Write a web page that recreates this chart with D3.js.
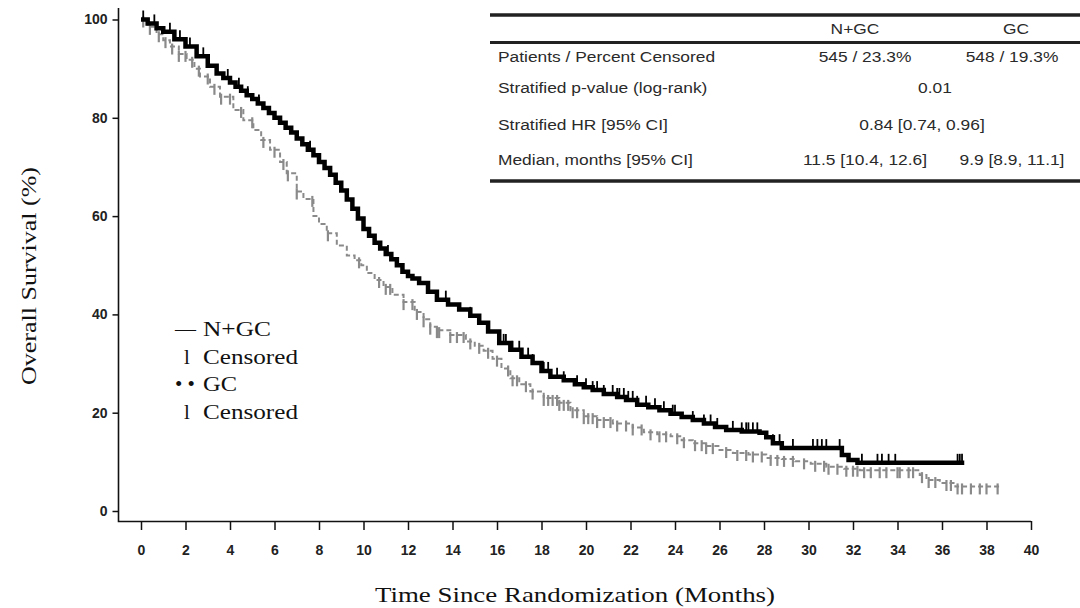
<!DOCTYPE html>
<html>
<head>
<meta charset="utf-8">
<script src="https://cdn.jsdelivr.net/npm/d3@7"></script>
<style>
  body { margin: 0; background: #fff; }
  svg { display: block; }
</style>
</head>
<body>
<div id="holder"></div>
<script>
// N+GC Kaplan-Meier knots (months, % surviving)
const ngcTime = [0,0.3,0.7,1.0,1.5,2.0,2.5,3.0,3.4,3.7,4.0,4.25,4.5,4.75,5.0,5.25,5.5,5.75,6.0,6.25,6.5,6.75,7.0,7.25,7.5,7.75,8.0,8.25,8.5,8.75,9.0,9.25,9.5,9.75,10.0,10.25,10.5,10.75,11.0,11.25,11.5,11.75,12.0,12.2,12.5,12.9,13.3,13.8,14.3,14.8,15.2,15.6,16.1,16.6,17.1,17.6,18.0,18.4,19.0,19.5,19.9,20.3,20.8,21.4,21.8,22.3,22.8,23.3,23.8,24.3,24.8,25.3,25.8,26.3,27.0,27.8,28.1,28.4,28.8,31.5,31.8,32.2];
const ngcSurv = [100,99.2,98.2,97.5,96,94.5,92.5,90.6,89,88.1,87.2,86.3,85.5,84.6,83.8,82.9,82,81,80,79,78,77,75.8,74.6,73.5,72.4,71,69.8,68.4,66.8,65.2,63.4,61.5,59.5,57.4,56,54.6,53.4,52.3,51.2,50,48.7,47.8,47.3,46.4,44.6,43,42,41,39.7,38.3,36.5,34.2,32.8,31.4,30.1,28.5,27.3,26.6,25.8,25.2,24.6,23.8,23.2,22.6,21.6,21.1,20.5,19.8,19.1,18.5,17.8,17.1,16.5,16.2,15.9,15.0,13.8,12.8,11.4,10.4,9.8];
const ngcEnd = 37.0;
const ngcCensor = [0.1,0.6,1.3,1.75,2.2,2.8,3.4,3.9,4.4,4.8,5.3,7.6,11.1,13.7,14.8,15.6,16.3,16.4,16.7,17.0,17.4,17.6,18.1,18.3,18.7,19.0,19.6,20.0,20.3,20.5,20.8,21.2,21.4,21.5,21.7,21.9,22.1,22.3,22.7,23.1,23.5,23.9,24.0,24.8,25.3,25.6,25.9,26.6,27.0,27.2,27.3,27.5,27.7,28.4,28.7,29.3,30.2,30.4,30.6,30.8,31.4,32.4,33.1,33.3,33.6,33.9,36.7,36.8,36.9];

// GC Kaplan-Meier knots
const gcTime = [0,0.3,0.7,1.0,1.3,1.7,2.05,2.4,2.65,3.1,3.55,4.15,4.6,5.05,5.4,5.8,6.25,6.55,7.0,7.3,7.75,8.0,8.35,8.8,9.25,9.6,9.9,10.15,10.5,10.9,11.3,11.8,12.3,12.7,13.0,13.3,13.9,14.6,15.0,15.4,15.8,16.2,16.6,17.0,17.5,18.1,18.8,19.3,19.9,20.5,21.2,22.1,22.6,23.2,23.8,24.3,24.8,25.4,26.0,26.6,27.3,28.1,28.8,29.4,30.1,30.8,31.6,32.3,35.0,35.3,35.9,36.6];
const gcSurv = [100,98.5,97,95.8,94.5,93,91.8,90,88.4,86.3,84.3,81.6,79.5,77.5,75.5,73.5,71,68.7,65,63.5,60,58.4,56.5,54,52,51,50,48.4,47,45.6,44,42.5,40.5,39,37.5,36.8,35.8,34.5,33.6,32.6,31,29,27,25.8,24.3,23,22,20.5,19.3,18.5,17.8,17,16,15.6,15.2,14.4,13.8,13.2,12.4,11.8,11.5,10.8,10.6,10.1,9.6,9.0,8.6,8.3,7.3,6.3,5.7,5.0];
const gcEnd = 38.6;
const gcCensor = [0.1,0.4,0.8,1.1,1.4,1.7,2.0,2.3,2.6,3.0,3.3,3.6,4.0,4.5,5.0,5.5,6.0,6.4,6.6,7.0,7.7,8.4,9.8,10.7,11.0,11.2,11.8,12.2,12.4,12.7,13.0,13.3,13.4,13.9,14.2,14.5,14.8,15.2,15.6,16.0,16.5,16.7,16.9,17.3,17.6,18.1,18.3,18.5,18.7,18.8,19.0,19.2,19.4,19.6,19.9,20.1,20.3,20.5,20.8,21.1,21.4,21.8,22.1,22.5,22.9,23.3,23.6,24.1,24.4,24.9,25.2,25.4,25.7,26.3,26.8,27.2,27.5,27.9,28.3,28.6,28.9,29.3,29.8,30.3,30.7,30.9,31.3,31.7,32.0,32.2,32.5,32.8,33.2,33.5,34.0,34.1,34.5,34.7,35.1,35.4,35.7,36.2,36.4,36.7,36.9,37.3,37.7,38.0,38.5];

const xTicks = d3.range(0, 41, 2);
const yTicks = [0, 20, 40, 60, 80, 100];

// table contents
const tableHeader = ['N+GC', 'GC'];
const tableLabels = ['Patients / Percent Censored', 'Stratified p-value (log-rank)', 'Stratified HR [95% CI]', 'Median, months  [95% CI]'];
const tableNgc = ['545 / 23.3%', null, null, '11.5 [10.4, 12.6]'];
const tableGc = ['548 / 19.3%', null, null, '9.9 [8.9, 11.1]'];
const tableBoth = [null, '0.01', '0.84 [0.74, 0.96]', null];

const legendItems = [
  {sym: '\u2014', text: 'N+GC'},
  {sym: 'l', text: 'Censored'},
  {sym: '\u2022 \u2022', text: 'GC'},
  {sym: 'l', text: 'Censored'}
];

const w = 1080, h = 608;
const stretch = 1.24; // the source is wider than tall

const svg = d3.select('#holder')
  .append('svg')
  .attr('width', w)
  .attr('height', h);

const x = d3.scaleLinear().domain([0, 40]).range([141, 1031]);
const y = d3.scaleLinear().domain([0, 100]).range([511, 19.5]);

const widen = (sel, k) => sel.each(function(){
  const len = this.getComputedTextLength();
  d3.select(this)
    .attr('textLength', len * k)
    .attr('lengthAdjust', 'spacingAndGlyphs');
});

// axes
const tickFont = 'Liberation Sans Narrow, Arial Narrow, Liberation Sans, Arial, sans-serif';
const yAxis = d3.axisLeft(y).tickValues(yTicks).tickSize(6).tickPadding(5);
const gy = svg.append('g')
  .attr('transform', 'translate(118.5,0)')
  .call(yAxis);
gy.select('.domain').remove();
gy.selectAll('line').attr('stroke', '#111').attr('stroke-width', 1.5);
gy.selectAll('text')
  .attr('font-family', tickFont)
  .attr('font-size', 14)
  .attr('font-weight', 'bold')
  .attr('fill', '#222');

const xAxis = d3.axisBottom(x).tickValues(xTicks).tickSize(9).tickPadding(15);
const gx = svg.append('g')
  .attr('transform', 'translate(0,521)')
  .call(xAxis);
gx.select('.domain').remove();
gx.selectAll('line').attr('stroke', '#111').attr('stroke-width', 1.5);
gx.selectAll('text')
  .attr('font-family', tickFont)
  .attr('font-size', 14)
  .attr('font-weight', 'bold')
  .attr('fill', '#222');

svg.append('path')
  .attr('d', 'M118.5,8V521.5H1031')
  .attr('fill', 'none')
  .attr('stroke', '#111')
  .attr('stroke-width', 1.6);

// axis titles
svg.append('text')
  .attr('x', 575).attr('y', 602)
  .attr('text-anchor', 'middle')
  .attr('font-family', 'Liberation Serif, Times New Roman, serif')
  .attr('font-size', 22)
  .attr('textLength', 400)
  .attr('lengthAdjust', 'spacingAndGlyphs')
  .attr('fill', '#111')
  .text('Time Since Randomization (Months)');

svg.append('text')
  .attr('transform', 'translate(36,276) rotate(-90)')
  .attr('text-anchor', 'middle')
  .attr('font-family', 'Liberation Serif, Times New Roman, serif')
  .attr('font-size', 21)
  .attr('textLength', 218)
  .attr('lengthAdjust', 'spacingAndGlyphs')
  .attr('fill', '#111')
  .text('Overall Survival (%)');

// KM curves
const stepLine = d3.line()
  .x(d => x(d[0]))
  .y(d => y(d[1]))
  .curve(d3.curveStepAfter);

const pts = (t, s, end) => {
  const p = t.map((v, i) => [v, s[i]]);
  p.push([end, s[s.length - 1]]);
  return p;
};
const survAt = (t, s, v) => s[Math.max(0, d3.bisectRight(t, v) - 1)];

svg.append('path')
  .attr('d', stepLine(pts(gcTime, gcSurv, gcEnd)))
  .attr('fill', 'none')
  .attr('stroke', '#8a8a8a')
  .attr('stroke-width', 2)
  .attr('stroke-dasharray', '5,3');

svg.append('g').selectAll('line')
  .data(gcCensor)
  .enter()
  .append('line')
  .attr('x1', d => x(d)).attr('x2', d => x(d))
  .attr('y1', d => y(survAt(gcTime, gcSurv, d)) - 3)
  .attr('y2', d => y(survAt(gcTime, gcSurv, d)) + 8)
  .attr('stroke', '#8a8a8a')
  .attr('stroke-width', 2.2);

svg.append('path')
  .attr('d', stepLine(pts(ngcTime, ngcSurv, ngcEnd)))
  .attr('fill', 'none')
  .attr('stroke', '#000')
  .attr('stroke-width', 4.5);

svg.append('g').selectAll('line')
  .data(ngcCensor)
  .enter()
  .append('line')
  .attr('x1', d => x(d)).attr('x2', d => x(d))
  .attr('y1', d => y(survAt(ngcTime, ngcSurv, d)) - 9)
  .attr('y2', d => y(survAt(ngcTime, ngcSurv, d)))
  .attr('stroke', '#000')
  .attr('stroke-width', 1.8);

// legend
const lg = svg.append('g')
  .attr('font-family', 'Liberation Serif, Times New Roman, serif')
  .attr('font-size', 21)
  .attr('fill', '#111');
const legY = [336, 364, 391, 419];
legendItems.forEach((it, i) => {
  lg.append('text')
    .attr('x', i % 2 === 0 ? 175 : 184)
    .attr('y', legY[i])
    .text(it.sym);
  lg.append('text')
    .attr('x', 203)
    .attr('y', legY[i])
    .attr('textLength', it.text === 'Censored' ? 95 : (it.text === 'GC' ? 34 : 68))
    .attr('lengthAdjust', 'spacingAndGlyphs')
    .text(it.text);
});

// stats table
const tb = svg.append('g')
  .attr('font-family', 'Liberation Sans, Arial, sans-serif')
  .attr('font-size', 14)
  .attr('fill', '#2a2a2a');
const rule = (yy, sw) => tb.append('line')
  .attr('x1', 490).attr('x2', 1080)
  .attr('y1', yy).attr('y2', yy)
  .attr('stroke', '#222')
  .attr('stroke-width', sw);
rule(15, 3.5);
rule(42.5, 3);
rule(181, 3.5);

const cellText = (txt, xx, yy, anchor) => {
  tb.append('text')
    .attr('x', xx).attr('y', yy)
    .attr('text-anchor', anchor)
    .text(txt)
    .call(widen, stretch);
};
const colNgc = 865, colGc = 1010, colBoth = 935;
const rowY = [62, 93, 130, 165];
cellText(tableHeader[0], colNgc - 10, 34, 'middle');
cellText(tableHeader[1], colGc + 6, 34, 'middle');
tableLabels.forEach((t, i) => cellText(t, 498, rowY[i], 'start'));
tableNgc.forEach((t, i) => { if (t) cellText(t, colNgc, rowY[i], 'middle'); });
tableGc.forEach((t, i) => { if (t) cellText(t, colGc + 2, rowY[i], 'middle'); });
tableBoth.forEach((t, i) => { if (t) cellText(t, colBoth - (i === 2 ? 13 : 0), rowY[i], 'middle'); });
</script>
</body>
</html>
